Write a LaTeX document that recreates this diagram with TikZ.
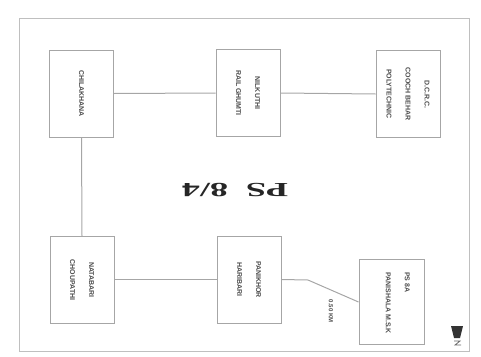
\documentclass[tikz,border=0pt]{standalone}
\usepackage{fontspec}
\setsansfont{Liberation Sans}
\setmainfont{Liberation Serif}
\begin{document}
\begin{tikzpicture}[x=1pt,y=-1pt,
  boxst/.style={draw=black!35,line width=1pt,minimum width=64pt,minimum height=87pt,inner sep=0pt},
  lbl/.style={rotate=-90,font=\sffamily\bfseries\fontsize{7}{19}\selectfont,text=black!70,align=center},
  link/.style={draw=black!35,line width=1pt}]
\useasboundingbox (0,0) rectangle (481,356);
\draw[black!25,line width=1pt] (19,18) rectangle (469,351);
\node[boxst] (tl) at (81.5,93.5) {};
\node[lbl] at (tl) {CHILAKHANA};
\node[boxst] (tm) at (248,93) {};
\node[lbl] at (tm) {NILKUTHI\\RAIL GHUMTI};
\node[boxst] (tr) at (408,94) {};
\node[lbl] at (tr) {D.C.R.C.\\COOCH BEHAR\\POLYTECHNIC};
\node[boxst] (bl) at (82,280) {};
\node[lbl] at (bl) {NATABARI\\CHOUPATHI};
\node[boxst] (bm) at (249,279.5) {};
\node[lbl] at (bm) {PANIKHOR\\HARIBARI};
\node[boxst,minimum width=65pt,minimum height=85pt] (br) at (391.5,302) {};
\node[lbl,align=left,anchor=north west,inner sep=0pt] (brl) at (410,272) {PS 8A\\PANISHALA M.S.K};
\coordinate (bend) at (308,280);
\draw[link] (tl.east) -- (tm.west);
\draw[link] (tm.east) -- (tr.west);
\draw[link] (tl.south) -- (bl.north);
\draw[link] (bl.east|-bm.west) -- (bm.west);
\draw[link] (bm.east) -- (bend) -- (br.west|-0,302);
\node[lbl,font=\sffamily\bfseries\fontsize{6}{7}\selectfont] (km) at (331,311) {0.50 KM};
\node[rotate=180,xscale=1.8,font=\rmfamily\bfseries\fontsize{20}{22}\selectfont,text=black!85] (ps) at (235,190) {PS\hspace{10pt}8/4};
\fill[black!80] (451,326) -- (463,326) -- (460,338) -- (454,338) -- cycle;
\draw[black!60,line width=0.8pt] (454,341) -- (460,341) -- (455,345) -- (461,345);
\end{tikzpicture}
\end{document}
